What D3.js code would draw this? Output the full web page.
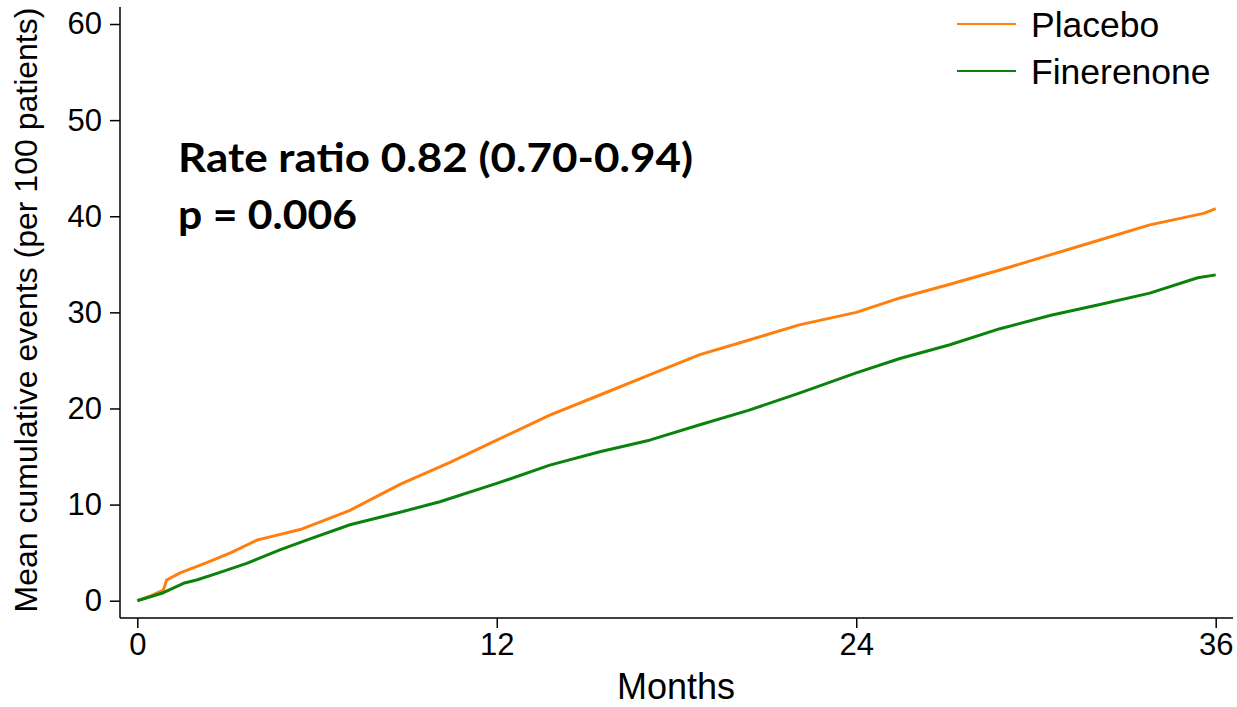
<!DOCTYPE html>
<html>
<head>
<meta charset="utf-8">
<script src="https://cdn.jsdelivr.net/npm/d3@7"></script>
<style>
  body { margin: 0; background: #fff; }
  text { font-family: "Liberation Sans", Arial, sans-serif; }
  text.annot { font-family: Lato, "Open Sans", sans-serif; font-weight: bold; }
</style>
</head>
<body>
<div id="chart"></div>
<script>
// months / mean cumulative events per 100 patients
var placeboMonths = [0, 0.45, 0.87, 0.98, 1.43, 2.32, 3.09, 3.99, 5.44, 7.1, 8.77, 10.44, 12.0, 13.77, 15.44, 17.1, 18.78, 20.4, 22.1, 24.0, 25.46, 27.1, 28.8, 30.5, 32.1, 33.8, 35.6, 36];
var placeboValues = [0, 0.5, 1.1, 2.15, 2.9, 3.96, 4.96, 6.3, 7.4, 9.4, 12.1, 14.4, 16.7, 19.3, 21.4, 23.5, 25.6, 27.1, 28.7, 30.0, 31.5, 32.9, 34.4, 36.0, 37.5, 39.1, 40.3, 40.8];

var finerenoneMonths = [0, 0.87, 1.54, 1.98, 2.76, 3.65, 4.76, 5.65, 7.1, 8.77, 10.1, 12.0, 13.77, 15.44, 17.1, 18.78, 20.4, 22.1, 24.0, 25.46, 27.1, 28.8, 30.5, 32.1, 33.8, 35.4, 36];
var finerenoneValues = [0, 0.83, 1.81, 2.15, 2.95, 3.89, 5.28, 6.3, 7.9, 9.2, 10.3, 12.2, 14.1, 15.5, 16.7, 18.3, 19.8, 21.6, 23.7, 25.2, 26.6, 28.3, 29.7, 30.8, 32.0, 33.6, 33.9];

var xTicks = [0, 12, 24, 36];
var yTicks = [0, 10, 20, 30, 40, 50, 60];

var seriesNames = ["Placebo", "Finerenone"];
var seriesColors = ["#ff7f0e", "#0b820b"];

var width = 1237, height = 707;

var svg = d3.select("#chart").append("svg")
    .attr("width", width)
    .attr("height", height);

var x = d3.scaleLinear().domain([0, 36]).range([137.3, 1215.7]);
var y = d3.scaleLinear().domain([0, 60]).range([600.7, 24]);

var axisLeftX = 120, axisBottomY = 618;

// y axis
var yAxis = svg.append("g")
    .attr("transform", "translate(" + axisLeftX + ",0)")
    .call(d3.axisLeft(y).tickValues(yTicks).tickSize(10).tickPadding(8).tickSizeOuter(0));
yAxis.select(".domain").remove();
yAxis.selectAll(".tick line").attr("stroke", "#000").attr("stroke-width", 1.5);
yAxis.selectAll(".tick text")
    .attr("font-size", 31)
    .attr("font-family", "Liberation Sans, Arial, sans-serif")
    .attr("fill", "#000");

svg.append("line")
    .attr("x1", axisLeftX).attr("x2", axisLeftX)
    .attr("y1", 7).attr("y2", axisBottomY)
    .attr("stroke", "#000").attr("stroke-width", 1.5);

// x axis
var xAxis = svg.append("g")
    .attr("transform", "translate(0," + axisBottomY + ")")
    .call(d3.axisBottom(x).tickValues(xTicks).tickSize(10).tickPadding(5).tickSizeOuter(0));
xAxis.select(".domain").remove();
xAxis.selectAll(".tick line").attr("stroke", "#000").attr("stroke-width", 1.5);
xAxis.selectAll(".tick text")
    .attr("font-size", 31)
    .attr("font-family", "Liberation Sans, Arial, sans-serif")
    .attr("fill", "#000");

svg.append("line")
    .attr("x1", axisLeftX).attr("x2", 1233)
    .attr("y1", axisBottomY).attr("y2", axisBottomY)
    .attr("stroke", "#000").attr("stroke-width", 1.5);

// axis titles
svg.append("text")
    .attr("x", 676).attr("y", 699)
    .attr("text-anchor", "middle")
    .attr("font-size", 36)
    .attr("fill", "#000")
    .text("Months");

svg.append("text")
    .attr("transform", "translate(37,310) rotate(-90)")
    .attr("text-anchor", "middle")
    .attr("font-size", 32)
    .attr("fill", "#000")
    .text("Mean cumulative events (per 100 patients)");

// lines
var line = d3.line()
    .x(function(d) { return x(d.month); })
    .y(function(d) { return y(d.value); });

var lineData = [
    placeboMonths.map(function(m, i) { return {month: m, value: placeboValues[i]}; }),
    finerenoneMonths.map(function(m, i) { return {month: m, value: finerenoneValues[i]}; })
];

svg.selectAll(".series")
    .data(lineData)
    .enter().append("path")
    .attr("class", "series")
    .attr("d", line)
    .attr("fill", "none")
    .attr("stroke", function(d, i) { return seriesColors[i]; })
    .attr("stroke-width", 3)
    .attr("stroke-linejoin", "round");

// legend
var legend = svg.selectAll(".legend")
    .data(seriesNames)
    .enter().append("g")
    .attr("class", "legend")
    .attr("transform", function(d, i) { return "translate(957," + (24 + i * 47) + ")"; });

legend.append("line")
    .attr("x1", 0).attr("x2", 59)
    .attr("stroke", function(d, i) { return seriesColors[i]; })
    .attr("stroke-width", 2);

legend.append("text")
    .attr("x", 74).attr("y", 12.5)
    .attr("font-size", 35.5)
    .attr("fill", "#000")
    .text(function(d) { return d; });

// annotation (stretched a bit to match the wider original font)
svg.append("text").attr("class", "annot")
    .attr("x", 178).attr("y", 172).attr("font-size", 40).attr("fill", "#000")
    .attr("textLength", 515).attr("lengthAdjust", "spacingAndGlyphs")
    .text("Rate ratio 0.82 (0.70-0.94)");
svg.append("text").attr("class", "annot")
    .attr("x", 178).attr("y", 229).attr("font-size", 40).attr("fill", "#000")
    .attr("textLength", 179).attr("lengthAdjust", "spacingAndGlyphs")
    .text("p = 0.006");
</script>
</body>
</html>
